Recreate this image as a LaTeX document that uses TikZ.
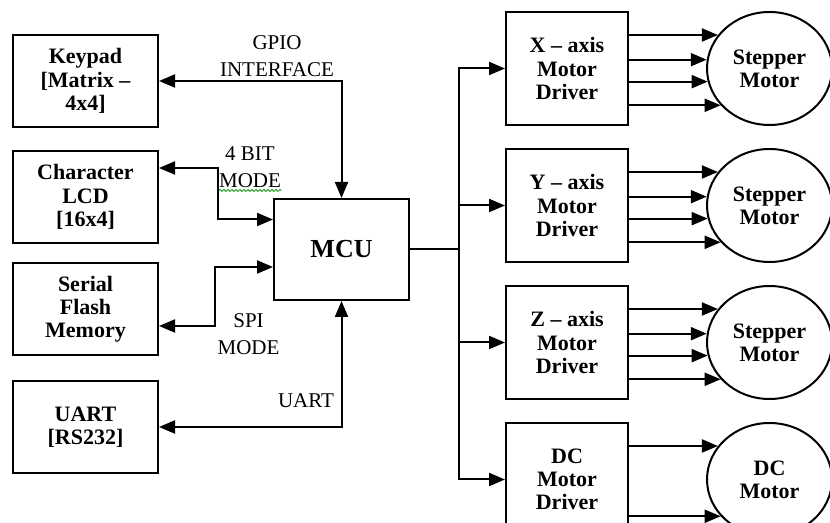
\documentclass[tikz,border=0pt]{standalone}
\usepackage{fontspec}
\setmainfont{Liberation Serif}
\usetikzlibrary{arrows.meta,positioning,shapes.geometric,decorations.pathmorphing}
\tikzset{
  block/.style={
    rectangle,
    draw=black,
    line width=1pt,
    align=center,
    inner sep=0pt,
    font=\fontsize{11}{11.6}\selectfont\bfseries,
    minimum width=72.5pt,
    minimum height=46pt
  },
  driver/.style={block, minimum width=61pt, minimum height=56.5pt},
  mcubox/.style={block, minimum width=67.5pt, minimum height=50.5pt,
    font=\fontsize{13}{15}\selectfont\bfseries},
  motor/.style={
    ellipse,
    draw=black,
    line width=1pt,
    align=center,
    inner sep=0pt,
    font=\fontsize{11}{11.6}\selectfont\bfseries,
    minimum width=62.5pt,
    minimum height=56.5pt
  },
  lbl/.style={align=center, inner sep=0pt, font=\fontsize{10.5}{13.5}\selectfont},
  line/.style={line width=1pt},
  arrow/.style={-{Triangle[length=8pt,width=6.5pt]}, line width=1pt},
  twoway/.style={{Triangle[length=8pt,width=6.5pt]}-{Triangle[length=8pt,width=6.5pt]}, line width=1pt},
  squiggle/.style={draw=green!60!black, line width=0.4pt, decorate,
    decoration={snake, amplitude=0.5pt, segment length=2pt}}
}

\begin{document}
\begin{tikzpicture}[x=0.5pt,y=-0.5pt]
  \useasboundingbox (0,0) rectangle (830,523);

  % peripherals
  \node[block] (kpd) at (85.5,81) {Keypad\\{[}Matrix --\\4x4]};
  \node[block, below=11pt of kpd] (lcd) {Character\\LCD\\{[}16x4]};
  \node[block, below=9pt of lcd] (flash) {Serial\\Flash\\Memory};
  \node[block, below=12pt of flash] (uart) {UART\\{[}RS232]};

  \node[mcubox] (mcu) at (341.5,249.5) {MCU};

  % drivers and motors
  \node[driver] (drvx) at (567,68.5) {X -- axis\\Motor\\Driver};
  \node[driver, below=11pt of drvx] (drvy) {Y -- axis\\Motor\\Driver};
  \node[driver, below=11pt of drvy] (drvz) {Z -- axis\\Motor\\Driver};
  \node[driver, below=11pt of drvz] (drvdc) {DC\\Motor\\Driver};

  \node[motor, right=38.5pt of drvx] (motx) {Stepper\\Motor};
  \node[motor, right=38.5pt of drvy] (moty) {Stepper\\Motor};
  \node[motor, right=38.5pt of drvz] (motz) {Stepper\\Motor};
  \node[motor, right=38.5pt of drvdc] (motdc) {DC\\Motor};

  % bus labels
  \node[lbl] (gpiolbl) at (277,56.5) {GPIO\\INTERFACE};
  \node[lbl] (bitlbl) at (250,167.5) {4 BIT\\MODE};
  \node[lbl] (spilbl) at (248.5,334) {SPI\\MODE};
  \node[lbl] (uartlbl) at (306,401) {UART};
  \draw[squiggle] ([yshift=-1pt]bitlbl.south west) -- ([yshift=-1pt]bitlbl.south east);

  % MCU links
  \draw[twoway] (kpd.east) -| (mcu.north);
  \draw[twoway] ([yshift=14.5pt]lcd.east) -- ++(59,0) |- ([yshift=15pt]mcu.west);
  \draw[twoway] ([yshift=-8.5pt]flash.east) -- ++(56,0) |- ([yshift=-8.75pt]mcu.west);
  \draw[twoway] (uart.east) -| (mcu.south);

  \draw[line] (mcu.east) -- ++(49,0) coordinate (split);
  \foreach \d in {x,y,z,dc}
    \draw[arrow] (split) |- (drv\d.west);

  \foreach \m in {x,y,z}
    \foreach \a in {147,172,192,217}
      \draw[arrow] (drv\m.east |- mot\m.\a) -- (mot\m.\a);
  \foreach \a in {147,217}
    \draw[arrow] (drvdc.east |- motdc.\a) -- (motdc.\a);
\end{tikzpicture}
\end{document}
